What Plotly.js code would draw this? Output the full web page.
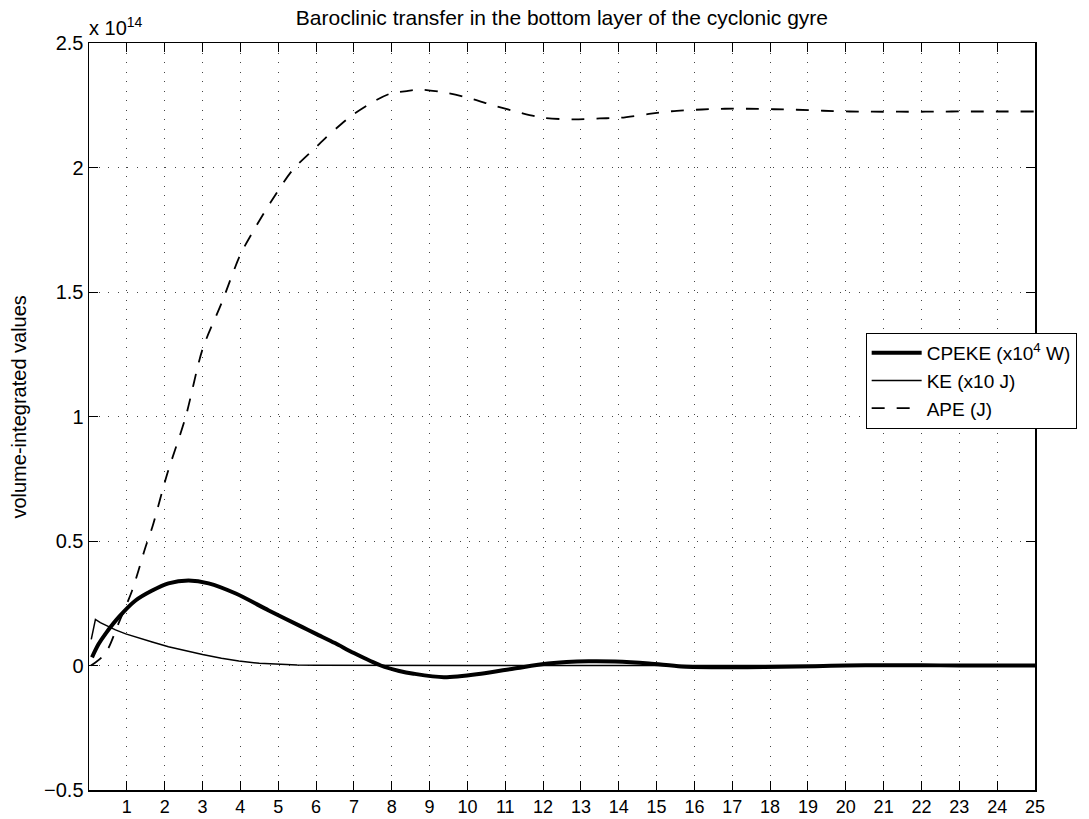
<!DOCTYPE html>
<html>
<head>
<meta charset="utf-8">
<script src="https://cdn.plot.ly/plotly-3.0.1.min.js"></script>
<style>html,body{margin:0;padding:0;background:#fff;}#chart{width:1089px;height:819px;}</style>
</head>
<body>
<div id="chart"></div>
<script>
// Time axis (x) and values in units of 1e14
const apeX = [0.05,0.17,0.35,0.52,0.78,1.14,1.49,1.67,2.07,2.55,3.0,3.5,4.0,4.4,4.8,5.37,5.99,6.26,6.79,7.0,7.58,7.97,8.4,8.77,9.43,10.09,10.7,11.4,12.0,12.8,13.5,14.06,14.8,15.4,16.2,16.8,17.4,18.1,18.7,19.4,20.1,20.7,21.4,22.1,22.8,23.4,24.1,25];
const apeY = [0.0,0.012,0.035,0.072,0.169,0.301,0.474,0.554,0.771,0.996,1.27,1.454,1.65,1.76,1.86,1.988,2.08,2.12,2.19,2.215,2.27,2.297,2.307,2.313,2.30,2.277,2.249,2.22,2.20,2.193,2.197,2.20,2.215,2.226,2.233,2.236,2.236,2.234,2.232,2.228,2.225,2.224,2.224,2.224,2.225,2.225,2.225,2.225];

const cpekeX = [0.08,0.25,0.44,0.78,1.23,1.67,2.1,2.63,3.16,3.88,4.75,5.64,6.0,6.5,7.0,7.71,8.2,8.58,9.38,10.36,11.24,12.13,13.2,13.9,14.8,15.65,16.5,17.4,18.3,19.2,20.0,21,22,23,24,25];
const cpekeY = [0.033,0.085,0.128,0.193,0.261,0.301,0.33,0.341,0.33,0.289,0.221,0.154,0.127,0.09,0.05,0.0,-0.022,-0.033,-0.047,-0.033,-0.012,0.008,0.017,0.016,0.008,-0.004,-0.007,-0.007,-0.005,-0.003,0.0,0.001,0.001,0.0,0.0,0.0];

const keX = [0.06,0.17,0.3,0.44,0.7,0.97,1.3,1.67,2.1,2.55,3.0,3.5,3.96,4.5,5.0,5.5,6.0,7.0,10,15,20,25];
const keY = [0.105,0.185,0.172,0.161,0.143,0.127,0.11,0.094,0.075,0.058,0.044,0.029,0.018,0.009,0.004,0.002,0.001,0.0,0.0,0.0,0.0,0.0];

const xTicks = [1,2,3,4,5,6,7,8,9,10,11,12,13,14,15,16,17,18,19,20,21,22,23,24,25];
const yTicks = [-0.5,0,0.5,1,1.5,2,2.5];
const yTickText = ['\u22120.5','0','0.5','1','1.5','2','2.5'];

const seriesNames = ['CPEKE (x10<sup>4</sup> W)','KE (x10 J)','APE (J)'];
const titleText = 'Baroclinic transfer in the bottom layer of the cyclonic gyre';
const yTitleText = 'volume-integrated values';

const FONT = 'Liberation Sans, Arial, Helvetica, sans-serif';
const FS = 21;

const traces = [
  {x: cpekeX, y: cpekeY, name: seriesNames[0], mode: 'lines', line: {color: '#000', width: 4, shape: 'spline', smoothing: 0.8}},
  {x: keX, y: keY, name: seriesNames[1], mode: 'lines', line: {color: '#000', width: 1.5}},
  {x: apeX, y: apeY, name: seriesNames[2], mode: 'lines', line: {color: '#000', width: 1.8, dash: '13px,12px', shape: 'spline', smoothing: 0.8}}
];

const layout = {
  width: 1089, height: 819,
  margin: {l: 89, r: 54, t: 43, b: 29, autoexpand: false},
  paper_bgcolor: '#fff', plot_bgcolor: '#fff',
  font: {family: FONT, size: FS, color: '#000'},
  showlegend: true,
  title: {text: titleText, font: {family: FONT, size: FS, color: '#000'}, x: 0.516, xanchor: 'center', y: 0.978, yanchor: 'middle'},
  xaxis: {
    range: [0, 25], tickvals: xTicks, ticktext: xTicks.map(String),
    ticks: 'inside', ticklen: 9, tickcolor: '#000', tickwidth: 1,
    showline: true, linecolor: '#000', linewidth: 1.5, mirror: 'ticks',
    showgrid: true, gridcolor: '#444', gridwidth: 1, griddash: '1px,8.5px',
    zeroline: false, tickfont: {family: FONT, size: 18, color: '#000'}
  },
  yaxis: {
    range: [-0.5, 2.5], tickvals: yTicks, ticktext: yTickText,
    ticks: 'inside', ticklen: 9, tickcolor: '#000', tickwidth: 1,
    showline: true, linecolor: '#000', linewidth: 1.5, mirror: 'ticks',
    showgrid: true, gridcolor: '#444', gridwidth: 1, griddash: '1px,8.5px',
    zeroline: false, tickfont: {family: FONT, size: 20, color: '#000'}
  },
  legend: {
    x: 0.821, y: 0.612, xanchor: 'left', yanchor: 'top',
    bgcolor: '#fff', bordercolor: '#000', borderwidth: 1,
    font: {family: FONT, size: 19, color: '#000'},
    tracegroupgap: 0, itemwidth: 50
  },
  annotations: [
    {xref: 'paper', yref: 'paper', x: -0.075, y: 0.512, xanchor: 'center', yanchor: 'middle', text: yTitleText, textangle: -90, showarrow: false, font: {family: FONT, size: 20, color: '#000'}},
    {xref: 'paper', yref: 'paper', x: -0.002, y: 1.022, xanchor: 'left', yanchor: 'middle', text: 'x 10<sup>14</sup>', showarrow: false, font: {family: FONT, size: 20, color: '#000'}}
  ]
};

Plotly.newPlot('chart', traces, layout, {displayModeBar: false, staticPlot: true});
</script>
</body>
</html>
